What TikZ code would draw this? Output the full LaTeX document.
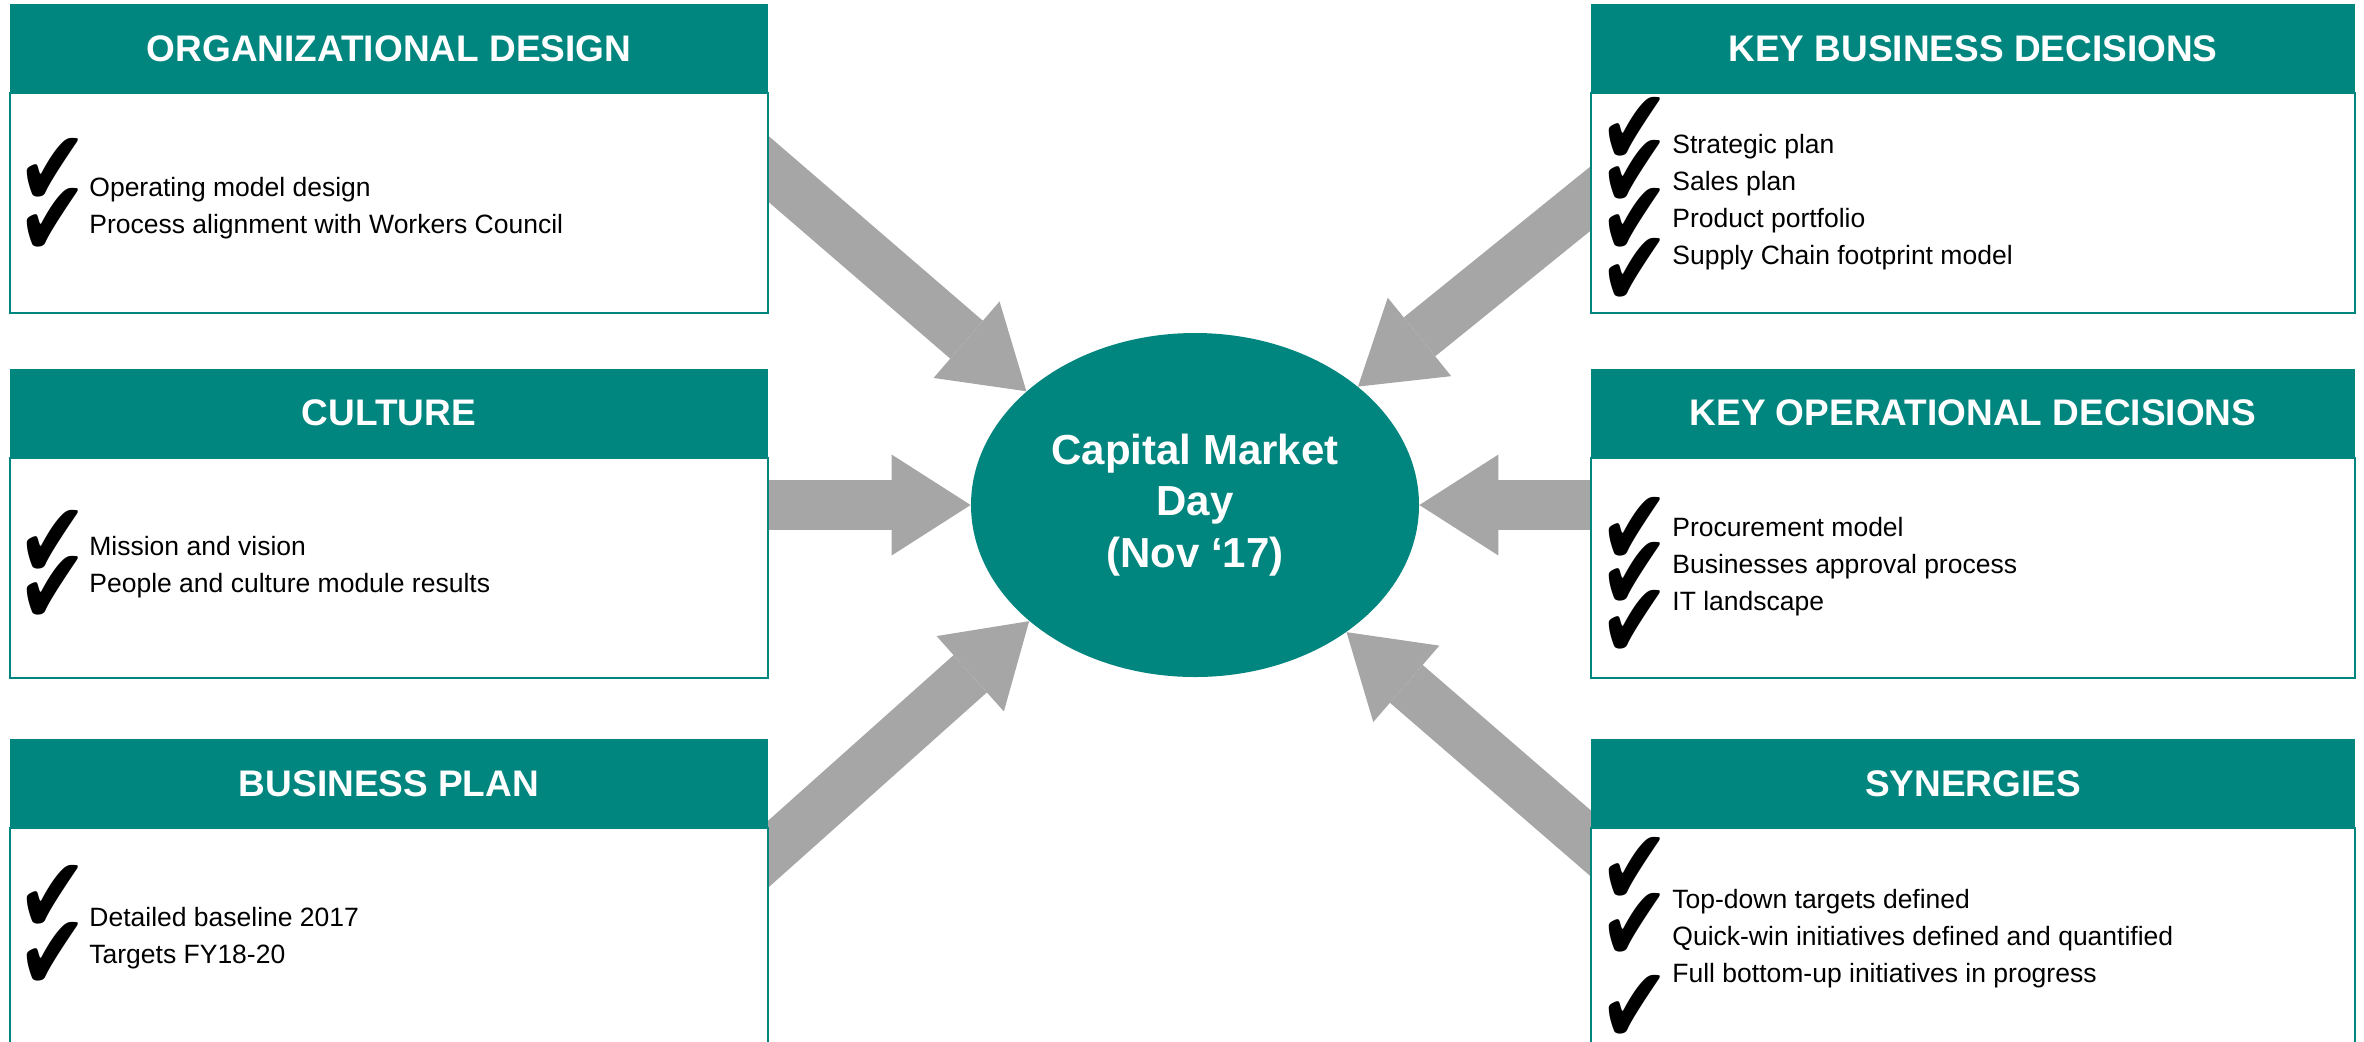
\documentclass[tikz,border=0pt]{standalone}
\usepackage{fontspec}
\setmainfont{Liberation Sans}
\newfontfamily\tickfont[FakeStretch=0.78]{DejaVu Sans}
\usetikzlibrary{positioning,shapes.geometric,arrows.meta}
\definecolor{petrol}{HTML}{00857F}
\definecolor{arrowgrey}{HTML}{A6A6A6}

\begin{document}
\begin{tikzpicture}
	[x=0.5pt,y=-0.5pt,
	 hdr/.style={fill=petrol,text=white,inner sep=0pt,outer sep=0pt,minimum height=44.5pt,
	 	font=\bfseries\fontsize{18.5}{22}\selectfont},
	 bodybox/.style={draw=petrol,line width=1pt,fill=white,outer sep=0pt,minimum height=110pt},
	 entry/.style={anchor=base west,align=left,inner sep=0pt,font=\fontsize{13.25}{18.4}\selectfont},
	 chk/.style={anchor=north west,inner sep=0pt,font=\tickfont\fontsize{54}{54}\selectfont},
	 bigarrow/.style={arrowgrey,line width=25pt,-{Triangle[length=39.5pt,width=50.5pt,line width=0pt]}}]
	\fill[white] (0,0) rectangle (2364,1041);
	\clip (0,0) rectangle (2364,1041);

	\node (cmd)[ellipse,fill=petrol,text=white,inner sep=0pt,minimum width=224pt,minimum height=172pt,
		align=center,font=\bfseries\fontsize{21}{25.75}\selectfont] at (1195,505)
		{Capital Market\\Day\\(Nov ‘17)};

	\coordinate (odtail) at (728,134);
	\coordinate (cutail) at (728,505);
	\coordinate (bptail) at (728,890);
	\coordinate (kbtail) at (1632,165);
	\coordinate (kotail) at (1632,505);
	\coordinate (sytail) at (1632,879);
	\draw[bigarrow] (odtail) -- (cmd.146);
	\draw[bigarrow] (cutail) -- (cmd.west);
	\draw[bigarrow] (bptail) -- (cmd.215);
	\draw[bigarrow] (kbtail) -- (cmd.36);
	\draw[bigarrow] (kotail) -- (cmd.east);
	\draw[bigarrow] (sytail) -- (cmd.320);

	\node (odhead)[hdr,minimum width=379pt] at (389,48.5) {ORGANIZATIONAL DESIGN};
	\node (odbody)[bodybox,minimum width=379pt,below=0pt of odhead] {};
	\node (cuhead)[hdr,minimum width=379pt] at (389,413) {CULTURE};
	\node (cubody)[bodybox,minimum width=379pt,below=0pt of cuhead] {};
	\node (bphead)[hdr,minimum width=379pt] at (389,783.5) {BUSINESS PLAN};
	\node (bpbody)[bodybox,minimum width=379pt,below=0pt of bphead] {};
	\node (kbhead)[hdr,minimum width=382pt] at (1973,48.5) {KEY BUSINESS DECISIONS};
	\node (kbbody)[bodybox,minimum width=382pt,below=0pt of kbhead] {};
	\node (kohead)[hdr,minimum width=382pt] at (1973,413) {KEY OPERATIONAL DECISIONS};
	\node (kobody)[bodybox,minimum width=382pt,below=0pt of kohead] {};
	\node (syhead)[hdr,minimum width=382pt] at (1973,783.5) {SYNERGIES};
	\node (sybody)[bodybox,minimum width=382pt,below=0pt of syhead] {};

	% base west sits on the last line of each list
	\node (odtext)[entry] at (89,233) {Operating model design\\
									Process alignment with Workers Council};
	\node (cutext)[entry] at (89,592) {Mission and vision\\
									People and culture module results};
	\node (bptext)[entry] at (89,963) {Detailed baseline 2017\\
									Targets FY18-20};
	\node (kbtext)[entry] at (1672,264) {Strategic plan\\
									Sales plan\\
									Product portfolio\\
									Supply Chain footprint model};
	\node (kotext)[entry] at (1672,610) {Procurement model\\
									Businesses approval process\\
									IT landscape};
	\node (sytext)[entry] at (1672,982) {Top-down targets defined\\
									Quick-win initiatives defined and quantified\\
									Full bottom-up initiatives in progress};

	\foreach \y [count=\i] in {138,188} \node (odchk\i)[chk] at (17,\y) {✔};
	\foreach \y [count=\i] in {510,556} \node (cuchk\i)[chk] at (17,\y) {✔};
	\foreach \y [count=\i] in {865,922} \node (bpchk\i)[chk] at (17,\y) {✔};
	\foreach \y [count=\i] in {97,140,188,238} \node (kbchk\i)[chk] at (1599,\y) {✔};
	\foreach \y [count=\i] in {497,542,590} \node (kochk\i)[chk] at (1599,\y) {✔};
	\foreach \y [count=\i] in {837,893,975} \node (sychk\i)[chk] at (1599,\y) {✔};
\end{tikzpicture}
\end{document}
